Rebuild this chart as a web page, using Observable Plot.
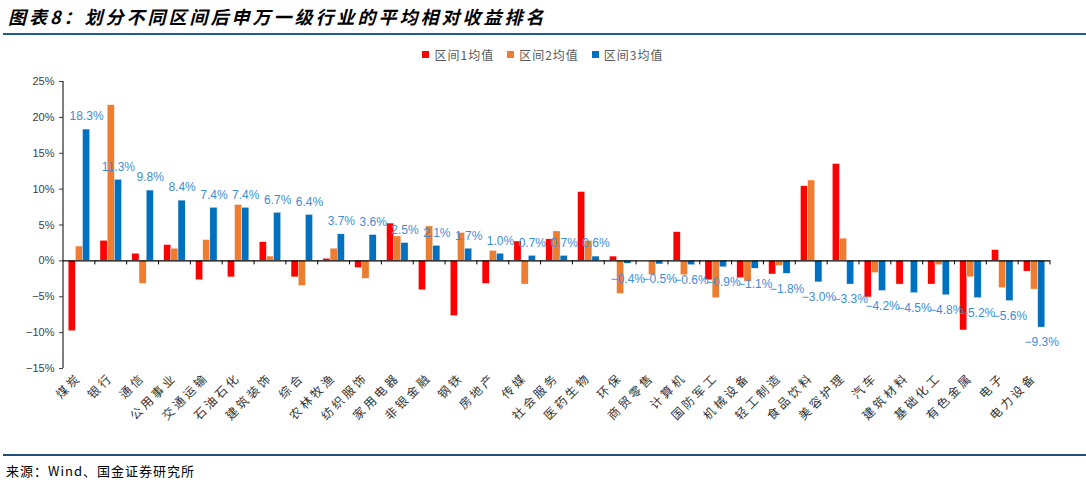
<!DOCTYPE html>
<html>
<head>
<meta charset="utf-8">
<script src="https://cdn.jsdelivr.net/npm/d3@7"></script>
<script src="https://cdn.jsdelivr.net/npm/@observablehq/plot@0.6"></script>
<style>
  body { margin: 0; background: #fff; }
  #wrap { position: relative; width: 1086px; height: 483px; overflow: hidden; font-family: "Noto Sans CJK SC", sans-serif; }
  #title { position: absolute; left: 8px; top: 3px; font-size: 18px; font-weight: bold; font-style: italic; letter-spacing: 3px; color: #000; white-space: nowrap; }
  #tline { position: absolute; left: 3px; right: 0; top: 33px; height: 2px; background: #1F5C99; }
  #legend { position: absolute; top: 46px; left: 0; width: 1086px; display: flex; justify-content: center; gap: 13px; font-size: 12px; color: #595959; letter-spacing: 1px; }
  #legend .item { display: flex; align-items: center; }
  #legend .sw { width: 7px; height: 7px; margin-right: 5px; }
  #chart { position: absolute; left: 0; top: 64px; }
  #bline { position: absolute; left: 3px; right: 0; top: 454px; height: 2px; background: #1F4E79; }
  #source { position: absolute; left: 6px; top: 461px; font-size: 13px; color: #000; letter-spacing: 1px; white-space: nowrap; }
  #chart [aria-label="fx-axis tick label"] text { letter-spacing: 3px; }
</style>
</head>
<body>
<div id="wrap">
  <div id="title">图表8：划分不同区间后申万一级行业的平均相对收益排名</div>
  <div id="tline"></div>
  <div id="legend"></div>
  <div id="chart"></div>
  <div id="bline"></div>
  <div id="source">来源：Wind、国金证券研究所</div>
</div>
<script>
const categories = ["煤炭","银行","通信","公用事业","交通运输","石油石化","建筑装饰","综合","农林牧渔","纺织服饰","家用电器","非银金融","钢铁","房地产","传媒","社会服务","医药生物","环保","商贸零售","计算机","国防军工","机械设备","轻工制造","食品饮料","美容护理","汽车","建筑材料","基础化工","有色金属","电子","电力设备"];
const seriesNames = ["区间1均值","区间2均值","区间3均值"];
const seriesColors = ["#FF0000","#ED7D31","#0070C0"];
const range1 = [-9.8, 2.8, 1.0, 2.2, -2.7, -2.3, 2.6, -2.3, 0.3, -1.0, 5.2, -4.1, -7.7, -3.2, 2.7, 3.0, 9.6, 0.6, 0.0, 4.0, -2.7, -2.4, -1.9, 10.4, 13.5, -5.1, -3.3, -3.3, -9.7, 1.5, -1.5];
const range2 = [2.0, 21.7, -3.2, 1.7, 2.9, 7.8, 0.6, -3.5, 1.7, -2.5, 3.4, 4.8, 3.9, 1.4, -3.3, 4.1, 2.8, -4.6, -2.0, -2.0, -5.2, -2.9, -0.7, 11.2, 3.1, -1.7, 0.0, -0.6, -2.3, -3.8, -4.0];
const range3 = [18.3, 11.3, 9.8, 8.4, 7.4, 7.4, 6.7, 6.4, 3.7, 3.6, 2.5, 2.1, 1.7, 1.0, 0.7, 0.7, 0.6, -0.4, -0.5, -0.6, -0.9, -1.1, -1.8, -3.0, -3.3, -4.2, -4.5, -4.8, -5.2, -5.6, -9.3];
const yTicks = [-15, -10, -5, 0, 5, 10, 15, 20, 25];

const allSeries = [range1, range2, range3];
const rows = categories.flatMap((c, i) => seriesNames.map((s, j) => ({cat: c, s, v: allSeries[j][i]})));
const labelRows = categories.map((c, i) => ({cat: c, s: seriesNames[2], v: range3[i]}));
const fmtPct = v => (v < 0 ? "−" : "") + Math.abs(v).toFixed(1) + "%";

// legend
const legend = document.getElementById("legend");
seriesNames.forEach((s, j) => {
  const it = document.createElement("div");
  it.className = "item";
  it.innerHTML = `<span class="sw" style="background:${seriesColors[j]}"></span><span>${s}</span>`;
  legend.appendChild(it);
});

const chart = Plot.plot({
  width: 1086,
  height: 386,
  marginLeft: 63,
  marginRight: 36,
  marginTop: 17,
  marginBottom: 82,
  style: {fontFamily: "'Noto Sans CJK SC', sans-serif", background: "#fff"},
  fx: {domain: categories, paddingInner: 0, paddingOuter: 0, round: false, label: null},
  x: {domain: seriesNames, paddingInner: 0, paddingOuter: 0.72, round: false, axis: null},
  y: {domain: [-15, 25], label: null},
  color: {domain: seriesNames, range: seriesColors},
  marks: [
    Plot.barY(rows, {fx: "cat", x: "s", y: "v", fill: "s", stroke: "#fff", strokeWidth: 0.4}),
    Plot.ruleY([0], {stroke: "#000", strokeWidth: 1.2}),
    Plot.axisY({ticks: yTicks, tickSize: 4, tickPadding: 5, tickFormat: d => (d < 0 ? "−" : "") + Math.abs(d) + "%", fontSize: 11, fontFamily: "'Liberation Sans', Arial, sans-serif", color: "#404040", label: null}),
    Plot.axisFx({anchor: "bottom", tickRotate: -45, tickSize: 0, tickPadding: 7, fontSize: 12, color: "#333", label: null}),
    Plot.text(labelRows.filter(d => d.v >= 0), {fx: "cat", x: "s", y: "v", text: d => fmtPct(d.v), dy: -13, fill: "#3C8DD8", fontSize: 12, fontFamily: "'Liberation Sans', Arial, sans-serif"}),
    Plot.text(labelRows.filter(d => d.v < 0), {fx: "cat", x: "s", y: "v", text: d => fmtPct(d.v), dy: 15, fill: "#3C8DD8", fontSize: 12, fontFamily: "'Liberation Sans', Arial, sans-serif"})
  ]
});
document.getElementById("chart").appendChild(chart);

// y-axis line and category boundary ticks, positioned from Plot's own scales
const svgEl = chart.tagName.toLowerCase() === "svg" ? chart : chart.querySelector("svg");
const fxS = chart.scale("fx");
const yS = chart.scale("y");
const overlay = d3.select(svgEl).append("g").attr("stroke", "#000").attr("stroke-width", 1);
const [yMin, yMax] = d3.extent(yTicks);
const axisX = fxS.apply(categories[0]);
overlay.append("line").attr("x1", axisX).attr("x2", axisX).attr("y1", yS.apply(yMax)).attr("y2", yS.apply(yMin));
const y0 = yS.apply(0);
categories.forEach(c => {
  const xr = fxS.apply(c) + fxS.bandwidth;
  overlay.append("line").attr("x1", xr).attr("x2", xr).attr("y1", y0).attr("y2", y0 + 4);
});
</script>
</body>
</html>
